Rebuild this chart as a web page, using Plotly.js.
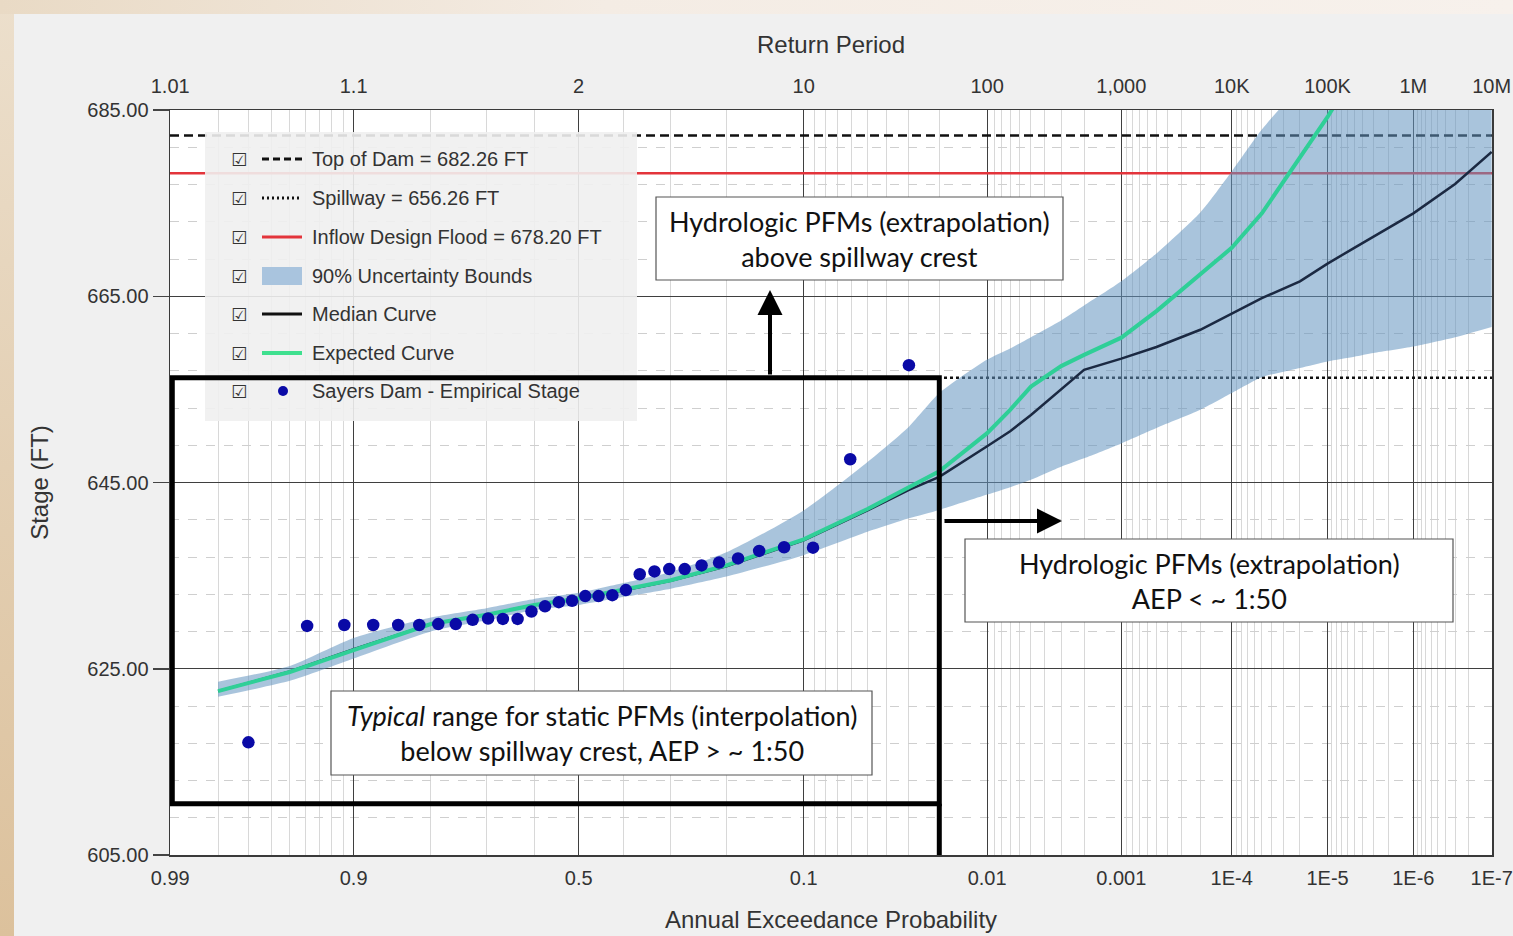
<!DOCTYPE html>
<html><head><meta charset="utf-8">
<script src="https://cdn.plot.ly/plotly-3.0.1.min.js"></script>
<style>
html,body{margin:0;padding:0;width:1513px;height:936px;overflow:hidden;}
body{background:linear-gradient(to bottom,#ecdfcc 0%,#e3cfb3 50%,#dcc19c 100%);}
#topstrip{position:absolute;left:0;top:0;width:1513px;height:14px;background:linear-gradient(to right,#e9dac5,#f4ece4 40%,#f7f1ec);}
#chart{position:absolute;left:14px;top:14px;width:1499px;height:922px;background:#f0f0f0;}
</style></head><body>
<div id="topstrip"></div>
<div id="chart"></div>
<script>
// ---------------- DATA ----------------
const AEP_TICKS = [0.99, 0.9, 0.5, 0.1, 0.01, 0.001, 1e-4, 1e-5, 1e-6, 1e-7];
const AEP_TICK_TEXT = ['0.99', '0.9', '0.5', '0.1', '0.01', '0.001', '1E-4', '1E-5', '1E-6', '1E-7'];
// return period labels shown above the same gridlines (T = 1/AEP)
const RP_TICK_TEXT = ['1.01', '1.1', '2', '10', '100', '1,000', '10K', '100K', '1M', '10M'];

const TOP_OF_DAM = 682.26;
const SPILLWAY = 656.26;
const INFLOW_DESIGN_FLOOD = 678.20;

const CURVE_AEP = [0.98, 0.95, 0.9, 0.8, 0.7, 0.6, 0.5, 0.4, 0.3, 0.2, 0.1, 0.05, 0.03, 0.02, 0.01,
  0.007, 0.005, 0.003, 0.002, 0.001, 5e-4, 2e-4, 1e-4, 5e-5, 2e-5, 1e-5, 5e-6, 3e-6, 1e-6, 3e-7, 1e-7];
const EXPECTED = [622.6, 624.65, 627.0, 629.8, 630.8, 631.85, 632.55, 633.45, 634.5, 636.1, 638.9, 642.15, 644.45, 646.2, 650.3,
  652.8, 655.3, 657.5, 658.7, 660.55, 663.4, 667.3, 670.2, 673.9, 679.85, 684.25, 689.0, null, null, null, null];
const MEDIAN = [622.6, 624.7, 627.1, 629.8, 630.8, 631.85, 632.55, 633.4, 634.45, 636.0, 638.8, 642.0, 644.2, 645.6, 648.9,
  650.5, 652.25, 655.0, 657.1, 658.3, 659.55, 661.4, 663.15, 664.8, 666.6, 668.5, 670.2, 671.4, 673.9, 677.05, 680.5];
const UPPER_90 = [623.6, 625.3, 628.3, 630.5, 631.5, 632.5, 633.15, 634.2, 635.4, 637.5, 642.0, 647.2, 651.0, 654.6, 658.2,
  659.4, 660.6, 662.4, 664.0, 666.6, 669.6, 674.0, 678.4, 682.9, 687.5, 690, 692, 694, 698, 700, 702];
const LOWER_90 = [622.0, 623.7, 626.1, 629.0, 630.2, 631.3, 631.85, 632.7, 633.6, 634.9, 637.2, 639.7, 641.15, 642.05, 643.7,
  644.5, 645.3, 646.7, 647.6, 649.2, 650.85, 652.8, 654.6, 656.3, 657.3, 658.0, 658.5, 658.9, 659.6, 660.6, 661.7];

const EMP_AEP = [0.970, 0.939, 0.909, 0.879, 0.848, 0.818, 0.788, 0.758, 0.727, 0.697, 0.667, 0.636, 0.606, 0.576, 0.545, 0.515,
  0.485, 0.455, 0.424, 0.394, 0.364, 0.333, 0.303, 0.273, 0.242, 0.212, 0.182, 0.152, 0.121, 0.091, 0.061, 0.030];
const EMP_STAGE = [617.1, 629.6, 629.7, 629.7, 629.7, 629.7, 629.8, 629.8, 630.25, 630.4, 630.35, 630.35, 631.15, 631.7, 632.15, 632.3,
  632.8, 632.8, 632.9, 633.45, 635.15, 635.45, 635.7, 635.7, 636.1, 636.4, 636.85, 637.65, 638.05, 638.0, 647.5, 657.6];

const LEGEND_LABELS = ['Top of Dam = 682.26 FT', 'Spillway = 656.26 FT', 'Inflow Design Flood = 678.20 FT',
  '90% Uncertainty Bounds', 'Median Curve', 'Expected Curve', 'Sayers Dam - Empirical Stage'];

// ---------------- SCALE (normal probability) ----------------
function invNorm(p) {
  const a = [-3.969683028665376e+01, 2.209460984245205e+02, -2.759285104469687e+02, 1.383577518672690e+02, -3.066479806614716e+01, 2.506628277459239e+00];
  const b = [-5.447609879822406e+01, 1.615858368580409e+02, -1.556989798598866e+02, 6.680131188771972e+01, -1.328068155288572e+01];
  const c = [-7.784894002430293e-03, -3.223964580411365e-01, -2.400758277161838e+00, -2.549671348494765e+00, 4.374664141464968e+00, 2.938163982698783e+00];
  const d = [7.784695709041462e-03, 3.224671290700398e-01, 2.445134137142996e+00, 3.754408661907416e+00];
  const pl = 0.02425, ph = 1 - pl;
  let q, r;
  if (p < pl) { q = Math.sqrt(-2 * Math.log(p)); return (((((c[0]*q+c[1])*q+c[2])*q+c[3])*q+c[4])*q+c[5]) / ((((d[0]*q+d[1])*q+d[2])*q+d[3])*q+1); }
  if (p <= ph) { q = p - 0.5; r = q*q; return (((((a[0]*r+a[1])*r+a[2])*r+a[3])*r+a[4])*r+a[5])*q / (((((b[0]*r+b[1])*r+b[2])*r+b[3])*r+b[4])*r+1); }
  q = Math.sqrt(-2 * Math.log(1 - p));
  return -(((((c[0]*q+c[1])*q+c[2])*q+c[3])*q+c[4])*q+c[5]) / ((((d[0]*q+d[1])*q+d[2])*q+d[3])*q+1);
}
const zOf = aep => -invNorm(aep);
const XMIN = zOf(AEP_TICKS[0]) - 0.001;
const XMAX = zOf(AEP_TICKS[AEP_TICKS.length - 1]) + 0.002;

// minor vertical grid positions
const minorAEP = [];
for (let v = 98; v >= 91; v--) minorAEP.push(v / 100);
[0.8, 0.7, 0.6, 0.4, 0.3, 0.2].forEach(v => minorAEP.push(v));
for (let k = 1; k <= 7; k++) for (let m = 9; m >= 2; m--) minorAEP.push(m * Math.pow(10, -(k + 1)));
const minorZ = minorAEP.map(zOf);

// ---------------- TRACES ----------------
const cz = CURVE_AEP.map(zOf);
const FONT = 'Liberation Sans, Arial, sans-serif';
const BAND_FILL = 'rgba(99,148,191,0.55)';
const GREEN = '#2fcf97';
const MEDIAN_COL = '#1b2942';
const RED = '#e3343b';
const DOT = '#0a0aa6';

const traces = [
  {x: [XMIN, XMAX], y: [TOP_OF_DAM, TOP_OF_DAM], mode: 'lines', line: {color: '#111', width: 2.5, dash: '9px,5px'}, hoverinfo: 'skip', name: LEGEND_LABELS[0]},
  {x: [XMIN, XMAX], y: [SPILLWAY, SPILLWAY], mode: 'lines', line: {color: '#111', width: 2.5, dash: '3px,3px'}, hoverinfo: 'skip', name: LEGEND_LABELS[1]},
  {x: [XMIN, XMAX], y: [INFLOW_DESIGN_FLOOD, INFLOW_DESIGN_FLOOD], mode: 'lines', line: {color: RED, width: 2.5}, hoverinfo: 'skip', name: LEGEND_LABELS[2]},
  {x: cz, y: LOWER_90, mode: 'lines', line: {width: 0, color: BAND_FILL, shape: 'spline', smoothing: 0.6}, hoverinfo: 'skip', name: 'lower'},
  {x: cz, y: UPPER_90, mode: 'lines', line: {width: 0, color: BAND_FILL, shape: 'spline', smoothing: 0.6}, fill: 'tonexty', fillcolor: BAND_FILL, hoverinfo: 'skip', name: LEGEND_LABELS[3]},
  {x: cz, y: MEDIAN, mode: 'lines', line: {color: MEDIAN_COL, width: 2.5}, name: LEGEND_LABELS[4]},
  {x: cz, y: EXPECTED, mode: 'lines', line: {color: GREEN, width: 4}, name: LEGEND_LABELS[5]},
  {x: EMP_AEP.map(zOf), y: EMP_STAGE, mode: 'markers', marker: {color: DOT, size: 12.5}, name: LEGEND_LABELS[6]},
  {x: AEP_TICKS.map(zOf), y: AEP_TICKS.map(() => null), xaxis: 'x2', mode: 'markers', hoverinfo: 'skip', showlegend: false}
];

// ---------------- OVERLAY (legend box, notes) ----------------
// page pixel -> paper coordinates of the plot area (170..1492 x 110..855)
const PX0 = 170, PX1 = 1492, PY0 = 110, PY1 = 855;
const px = v => (v - PX0) / (PX1 - PX0);
const py = v => (PY1 - v) / (PY1 - PY0);

const shapes = [];
const annotations = [];
// legend background
shapes.push({type: 'rect', xref: 'paper', yref: 'paper', x0: px(205), x1: px(637), y0: py(421), y1: py(132),
  fillcolor: 'rgba(240,240,240,0.9)', line: {width: 0}, layer: 'above'});
const rowY = [159, 198, 237, 276, 314, 353, 391];
const symLine = (i, color, width, dash) => shapes.push({type: 'line', xref: 'paper', yref: 'paper',
  x0: px(262), x1: px(302), y0: py(rowY[i]), y1: py(rowY[i]), line: {color, width, dash}, layer: 'above'});
symLine(0, '#111', 3, '7px,4px');
symLine(1, '#111', 3, '2px,3px');
symLine(2, RED, 3, 'solid');
shapes.push({type: 'rect', xref: 'paper', yref: 'paper', x0: px(262), x1: px(302), y0: py(rowY[3] + 9), y1: py(rowY[3] - 9),
  fillcolor: '#a9c4de', line: {width: 0}, layer: 'above'});
symLine(4, '#111', 3, 'solid');
symLine(5, '#3fe08f', 4, 'solid');
shapes.push({type: 'circle', xref: 'paper', yref: 'paper', x0: px(278), x1: px(288), y0: py(rowY[6] + 5), y1: py(rowY[6] - 5),
  fillcolor: DOT, line: {width: 0}, layer: 'above'});
LEGEND_LABELS.forEach((lab, i) => {
  annotations.push({xref: 'paper', yref: 'paper', x: px(239), y: py(rowY[i]), text: '\u2611', showarrow: false,
    xanchor: 'center', yanchor: 'middle', font: {family: 'DejaVu Sans', size: 18, color: '#333'}});
  annotations.push({xref: 'paper', yref: 'paper', x: px(310), y: py(rowY[i]), text: lab, showarrow: false,
    xanchor: 'left', yanchor: 'middle', font: {family: FONT, size: 20, color: '#333'}});
});

// thick "typical range" box (data coords)
const BOX_BOTTOM = 610.5;
shapes.push({type: 'rect', xref: 'x', yref: 'y', x0: zOf(0.99) + 0.012, x1: zOf(0.02), y0: BOX_BOTTOM, y1: SPILLWAY,
  line: {color: '#000', width: 5}, fillcolor: 'rgba(0,0,0,0)', layer: 'above'});
shapes.push({type: 'line', xref: 'x', yref: 'y', x0: zOf(0.02), x1: zOf(0.02), y0: 605, y1: BOX_BOTTOM,
  line: {color: '#000', width: 5}, layer: 'above'});

// text boxes
const NOTE_FONT = {family: 'Lato, Carlito, sans-serif', size: 27, color: '#111'};
const notes = [
  {x0: 656, x1: 1063, y0: 197, y1: 280, text: 'Hydrologic PFMs (extrapolation)<br>above spillway crest'},
  {x0: 965, x1: 1453, y0: 539, y1: 622, text: 'Hydrologic PFMs (extrapolation)<br>AEP &lt; ~ 1:50'},
  {x0: 331, x1: 872, y0: 691, y1: 775, text: '<i>Typical</i> range for static PFMs (interpolation)<br>below spillway crest, AEP &gt; ~ 1:50'}
];
notes.forEach(n => {
  shapes.push({type: 'rect', xref: 'paper', yref: 'paper', x0: px(n.x0), x1: px(n.x1), y0: py(n.y1), y1: py(n.y0),
    fillcolor: '#ffffff', line: {color: '#555', width: 1.2}, layer: 'above'});
  annotations.push({xref: 'paper', yref: 'paper', x: px((n.x0 + n.x1) / 2), y: py((n.y0 + n.y1) / 2), text: n.text,
    showarrow: false, xanchor: 'center', yanchor: 'middle', align: 'center', font: NOTE_FONT});
});

// arrows
annotations.push({xref: 'paper', yref: 'paper', x: px(770), y: py(290), ax: 0, ay: 86, text: '', showarrow: true,
  arrowhead: 2, arrowsize: 1.25, arrowwidth: 4, arrowcolor: '#000', standoff: 0});
annotations.push({xref: 'paper', yref: 'paper', x: px(1062), y: py(521), ax: -119, ay: 0, text: '', showarrow: true,
  arrowhead: 2, arrowsize: 1.25, arrowwidth: 4, arrowcolor: '#000', standoff: 0});

// ---------------- LAYOUT ----------------
const layout = {
  width: 1499, height: 922,
  margin: {l: 156, r: 21, t: 96, b: 81, pad: 0},
  paper_bgcolor: '#f0f0f0', plot_bgcolor: '#ffffff',
  showlegend: false,
  font: {family: FONT, color: '#333'},
  xaxis: {
    range: [XMIN, XMAX], tickmode: 'array', tickvals: AEP_TICKS.map(zOf), ticktext: AEP_TICK_TEXT,
    ticks: '', ticklabelstandoff: 4, showgrid: true, gridcolor: '#3f3f3f', gridwidth: 1.3, zeroline: false,
    showline: true, linecolor: '#3a3a3a', linewidth: 1.5, mirror: true,
    minor: {tickmode: 'array', tickvals: minorZ, showgrid: true, gridcolor: '#d8d8d8', gridwidth: 1, ticks: ''},
    tickfont: {size: 20, color: '#333', family: FONT},
    title: {text: 'Annual Exceedance Probability', font: {size: 24, color: '#333', family: FONT}, standoff: 23},
    fixedrange: true
  },
  xaxis2: {
    overlaying: 'x', side: 'top', anchor: 'y', range: [XMIN, XMAX], tickmode: 'array',
    tickvals: AEP_TICKS.map(zOf), ticktext: RP_TICK_TEXT, ticks: '', ticklabelstandoff: 12, showgrid: false, zeroline: false,
    showline: false, tickfont: {size: 20, color: '#333', family: FONT},
    title: {text: 'Return Period', font: {size: 24, color: '#333', family: FONT}, standoff: 14},
    fixedrange: true
  },
  yaxis: {
    range: [605, 685], tickmode: 'linear', tick0: 605, dtick: 20, tickformat: '.2f',
    ticks: 'outside', ticklen: 16, tickcolor: '#444', tickwidth: 1.5,
    showgrid: true, gridcolor: '#3f3f3f', gridwidth: 1.3, zeroline: false,
    showline: true, linecolor: '#3a3a3a', linewidth: 1.5, mirror: true,
    minor: {tick0: 605, dtick: 4, showgrid: true, gridcolor: '#cfcfcf', griddash: 'dash', gridwidth: 1, ticks: ''},
    tickfont: {size: 20, color: '#333', family: FONT},
    title: {text: 'Stage (FT)', font: {size: 24, color: '#333', family: FONT}, standoff: 32},
    fixedrange: true
  },
  shapes, annotations
};

Plotly.newPlot('chart', traces, layout, {displayModeBar: false, staticPlot: true});
</script></body></html>
